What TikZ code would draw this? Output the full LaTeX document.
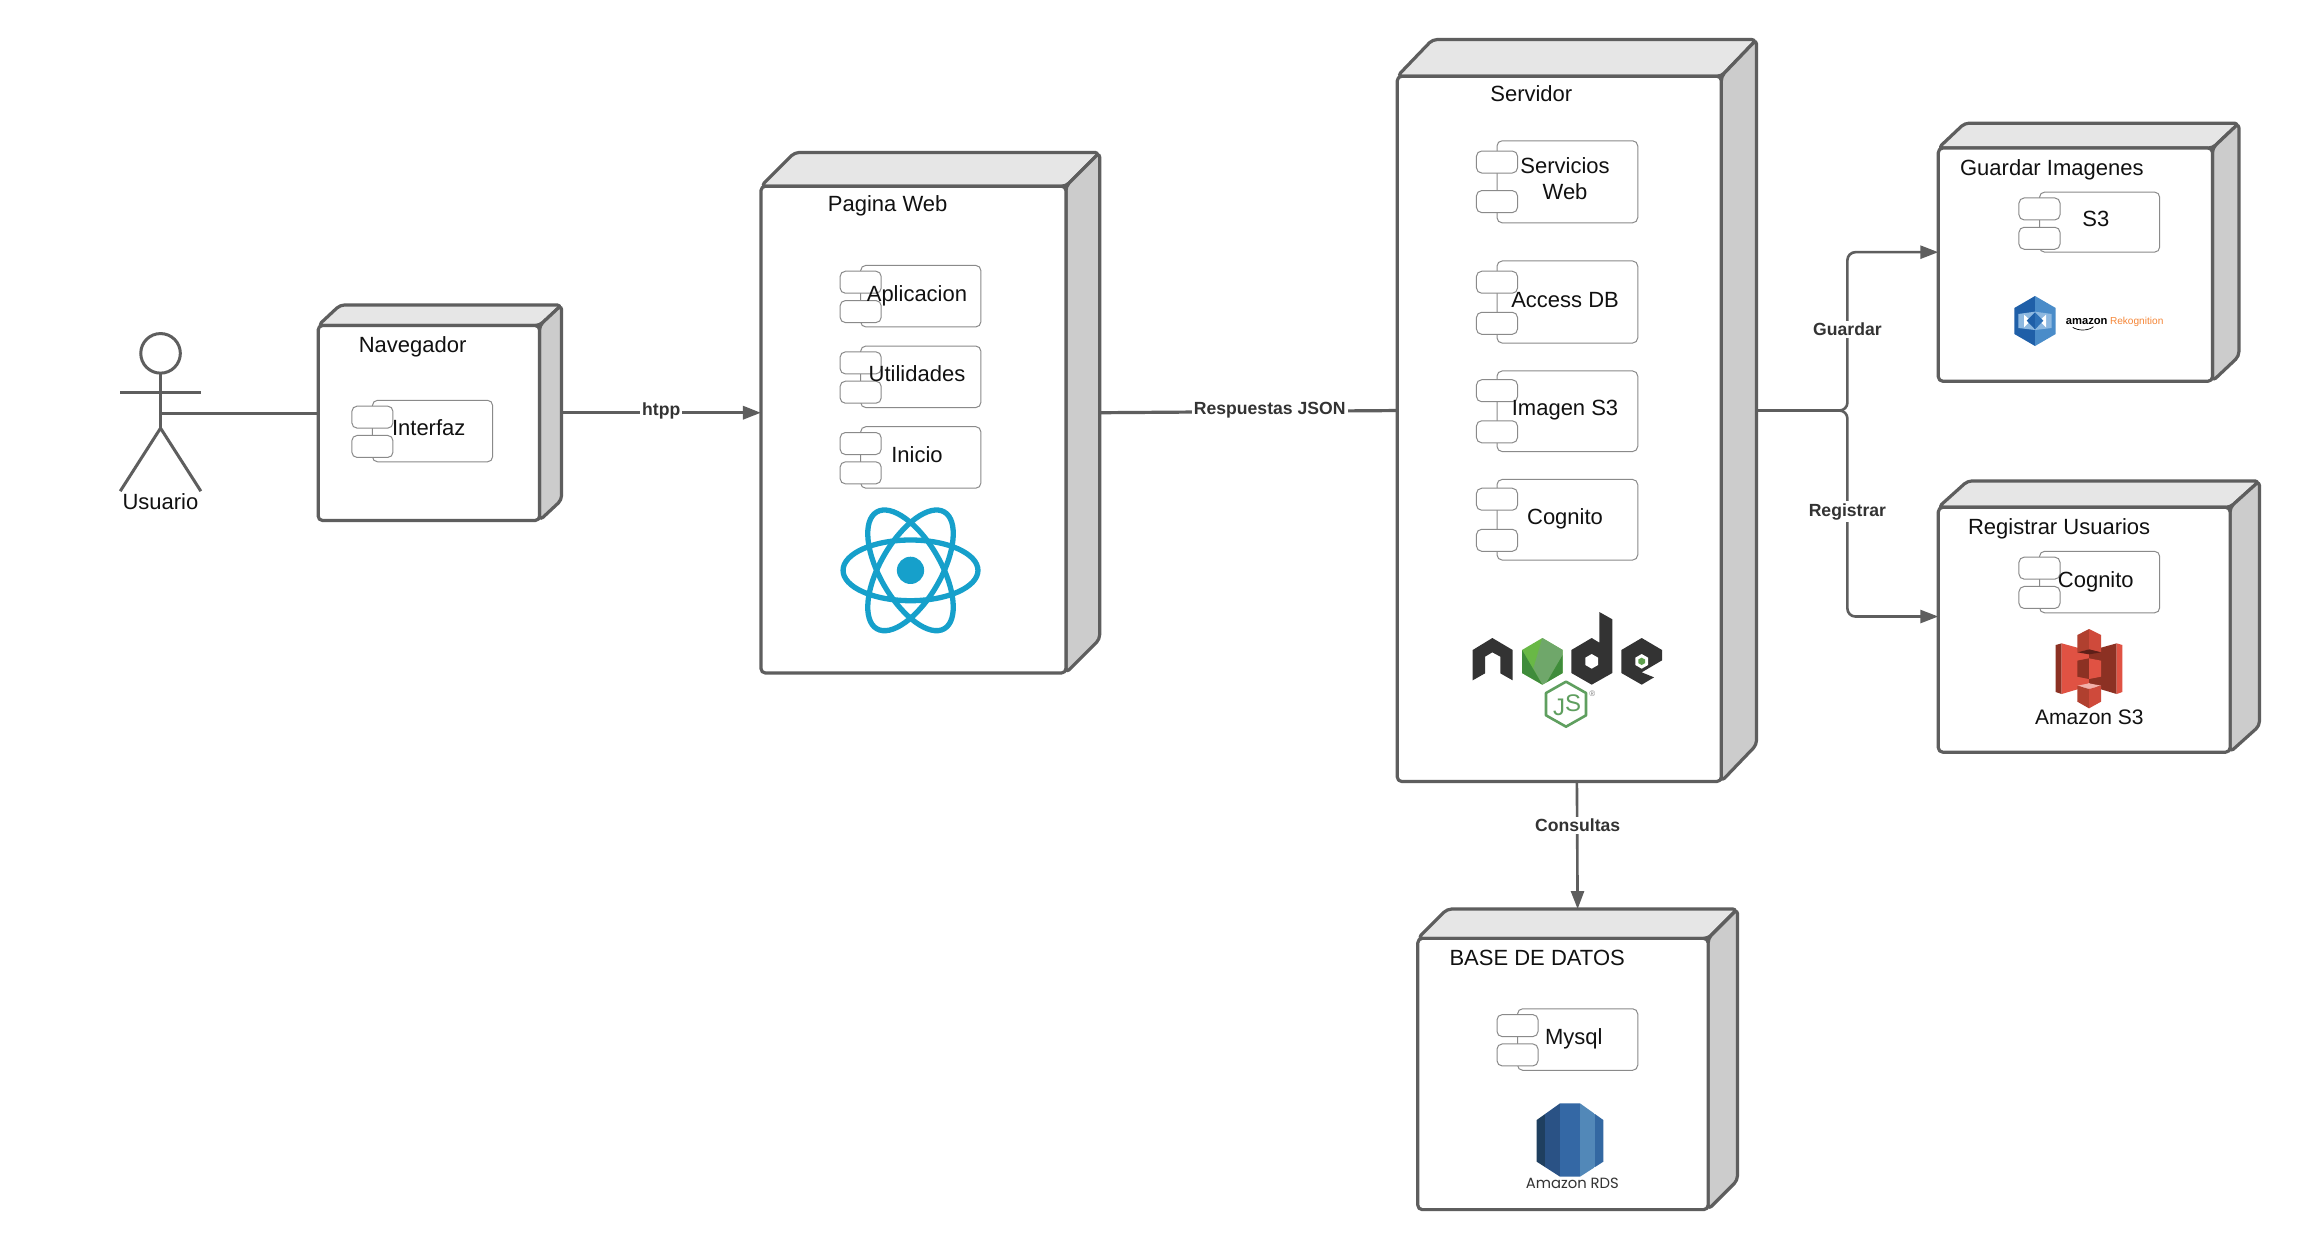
\documentclass[tikz,border=0pt]{standalone}
\usepackage{fontspec}
\setmainfont{Liberation Sans}
\newfontfamily\logofont{Poppins}
\usetikzlibrary{arrows.meta}
\definecolor{ln}{HTML}{5E5E5E}
\definecolor{thin}{HTML}{8A8A8A}
\definecolor{topc}{HTML}{E6E6E6}
\definecolor{sidec}{HTML}{CCCCCC}
\definecolor{txt}{HTML}{111111}
\definecolor{ctxt}{HTML}{333333}
\definecolor{reactc}{HTML}{16A0CB}
\definecolor{ndark}{HTML}{333333}
\definecolor{ngreen}{HTML}{5F9F5F}
\definecolor{rekorange}{HTML}{F58536}
\tikzset{
  boxline/.style={draw=ln,line width=1.6pt,line join=round,rounded corners=2.2pt},
  frontbox/.style={boxline,fill=white,inner sep=0pt,outer sep=0pt},
  extent/.style={inner sep=0pt,outer sep=0pt},
  partbox/.style={draw=thin,line width=.5pt,fill=white,rounded corners=2.6pt,inner sep=0pt,outer sep=0pt},
  lbl/.style={font=\fontsize{11}{13.2}\selectfont,text=txt,align=center,inner sep=0pt,text height=7.9pt,text depth=0pt,xshift=.3pt},
  clabel/.style={font=\fontsize{8.8}{10}\selectfont\bfseries,text=ctxt,fill=white,inner sep=1pt},
  conn/.style={draw=ln,line width=1.3pt},
  wideconn/.style={draw=ln,line width=1.6pt},
  tip/.style={-{Triangle[length=9pt,width=6.5pt]}},
  zoomed/.style 2 args={x=.166667pt,y=-.166667pt,shift={({#1*0.5pt},{-#2*0.5pt})}},
  hf/.code={\definecolor{tmphx}{HTML}{#1}\pgfkeysalso{fill=tmphx}},
}
\newcommand{\devicebox}[7]{%name,x1,y1,x2,y2,dx,dy
  \filldraw[boxline,fill=topc] (#2,#3)--({#2+#6},{#3-#7})--({#4+#6},{#3-#7})--(#4,#3)--cycle;
  \filldraw[boxline,fill=sidec] (#4,#3)--({#4+#6},{#3-#7})--({#4+#6},{#5-#7})--(#4,#5)--cycle;
  \node[frontbox,minimum width={(#4-#2)*0.7331pt},minimum height={(#5-#3)*0.7331pt}] (#1-front) at ({(#2+#4)/2},{(#3+#5)/2}) {};
  \node[extent,minimum width={(#4+#6-#2)*0.7331pt},minimum height={(#5-#3+#7)*0.7331pt}] (#1) at ({(#2+#4+#6)/2},{(#3+#5-#7)/2}) {};
}
\newcommand{\compbox}[7]{%name,x1,y1,x2,y2,peg1,peg2
  \node[partbox,minimum width={(#4-#2)*0.7331pt},minimum height={(#5-#3)*0.7331pt}] (#1) at ({(#2+#4)/2},{(#3+#5)/2}) {};
  \node[partbox,minimum width={28*0.7331pt},minimum height={15*0.7331pt}] (#1-a) at (#2,{#6+7.5}) {};
  \node[partbox,minimum width={28*0.7331pt},minimum height={15*0.7331pt}] (#1-b) at (#2,{#7+7.5}) {};
}
\begin{document}
\begin{tikzpicture}[x=0.7331pt,y=-0.7331pt]
\useasboundingbox (0,0) rectangle (1568,852);
\fill[white] (0,0) rectangle (1568,852);

\coordinate (hip) at (109,282);
\coordinate (split) at (1260,280);

\devicebox{nav}{217}{222}{368}{355}{15}{14}
\devicebox{web}{519}{127}{727}{459}{23}{23}
\devicebox{srv}{953}{52}{1174}{533}{24}{25}
\devicebox{img}{1322}{101}{1509}{260}{18}{17}
\devicebox{reg}{1322}{346}{1521}{513}{20}{18}
\devicebox{bdd}{967}{640}{1165}{825}{20}{20}

\draw[conn] (hip) -- (hip -| nav.west);
\draw[wideconn,tip] (nav.east) -- (web.west);
\draw[wideconn] (web.east) -- (srv.west);
\draw[conn,tip,rounded corners=4pt] (srv.east) -- (split) |- (img.west);
\draw[conn,tip,rounded corners=4pt] (srv.east) -- (split) |- (reg.west);
\draw[conn,tip] (srv.south) -- (bdd.north);

\node[clabel] (l1) at (451,280) {htpp};
\node[clabel] (l2) at (866,280) {Respuestas JSON};
\node[clabel] (l3) at (1260,224.5) {Guardar};
\node[clabel] (l4) at (1260,349) {Registrar};
\node[clabel] (l5) at (1076,563) {Consultas};

% actor
\begin{scope}[draw=ln,line width=1.5pt]
\node[draw=ln,line width=1.5pt,circle,minimum size={27*0.7331pt},inner sep=0pt,outer sep=0pt] (head) at (109.5,241) {};
\coordinate (crotch) at (109.5,292);
\coordinate (armL) at (82,268);
\coordinate (armR) at (137,268);
\coordinate (legL) at (82,335);
\coordinate (legR) at (137,335);
\draw (head.south) -- (crotch);
\draw (armL) -- (armR);
\draw (legL) -- (crotch) -- (legR);
\end{scope}
\node[lbl] (usuario) at (109,342) {Usuario};

% titles
\node[lbl] (t1) at (281,235) {Navegador};
\node[lbl] (t2) at (605,139) {Pagina Web};
\node[lbl] (t3) at (1044,64) {Servidor};
\node[lbl] (t4) at (1399,114) {Guardar Imagenes};
\node[lbl] (t5) at (1404,359) {Registrar Usuarios};
\node[lbl] (t6) at (1048,653) {BASE DE DATOS};

% components
\compbox{c1}{254}{273}{336}{315}{277}{297}
\node[lbl] at (292,291.5) {Interfaz};
\compbox{c2}{587}{181}{669}{223}{185}{205}
\node[lbl] at (625,200) {Aplicacion};
\compbox{c3}{587}{236}{669}{278}{240}{260}
\node[lbl] at (625,255) {Utilidades};
\compbox{c4}{587}{291}{669}{333}{295}{315}
\node[lbl] at (625,310) {Inicio};
\compbox{c5}{1021}{96}{1117}{152}{103}{130}
\node[lbl] at (1067,131) {Servicios\\Web};
\compbox{c6}{1021}{178}{1117}{234}{185}{213}
\node[lbl] at (1067,204) {Access DB};
\compbox{c7}{1021}{253}{1117}{308}{259}{287}
\node[lbl] at (1067,278) {Imagen S3};
\compbox{c8}{1021}{327}{1117}{382}{333}{361}
\node[lbl] at (1067,352) {Cognito};
\compbox{c9}{1391}{131}{1473}{172}{135}{155}
\node[lbl] at (1429,149) {S3};
\compbox{c10}{1391}{376}{1473}{418}{380}{400}
\node[lbl] at (1429,395) {Cognito};
\compbox{c11}{1035}{688}{1117}{730}{692}{712}
\node[lbl] at (1073,707) {Mysql};

% react logo
\begin{scope}[draw=reactc,line width=2.65pt]
\draw (621,389) circle[x radius=46,y radius=20.7];
\draw[rotate around={60:(621,389)}] (621,389) circle[x radius=46,y radius=20.7];
\draw[rotate around={120:(621,389)}] (621,389) circle[x radius=46,y radius=20.7];
\end{scope}
\fill[reactc] (621,389) circle[radius=9.3];

% node logo
\begin{scope}[zoomed={1440}{600}]
\fill[ndark] (98,150)--(157,114)--(218,150)--(218,241)--(181,220)--(181,170)--(157,157)--(135,170)--(135,220)--(98,241)--cycle;
\fill[ndark] (394,150)--(455,114)--(478,128)--(478,36)--(517,58)--(517,219)--(455,254)--(394,219)--cycle;
\fill[white] (455,162)--(474,173)--(474,195)--(455,206)--(436,195)--(436,173)--cycle;
\fill[ndark] (544,150)--(605,114)--(666,150)--(666,181)--(605,217)--(642,232)--(605,254)--(544,219)--cycle;
\fill[white] (605,162)--(624,173)--(624,195)--(605,206)--(586,195)--(586,173)--cycle;
\fill[hf=5FA04E] (605,173)--(615,178.5)--(615,189.5)--(605,195)--(595,189.5)--(595,178.5)--cycle;
\fill[hf=69B846] (307,114)--(368,150)--(368,219)--(307,254)--(246,219)--(246,150)--cycle;
\fill[hf=6FA76A] (307,114)--(368,150)--(368,165)--(320,247)--(307,254)--(280,205)--cycle;
\fill[hf=3F8C3B] (246,150)--(307,254)--(246,219)--cycle;
\fill[hf=3F8C3B] (368,165)--(368,219)--(320,247)--cycle;
\draw[ngreen,line width=1.3pt,line join=round] (378,245)--(438,279)--(438,346)--(378,380)--(318,346)--(318,279)--cycle;
\node[font=\fontsize{12}{13}\selectfont,text=ngreen,inner sep=0pt] (jsmark) at (381,311) {\smash{\raisebox{-1.6pt}{J}}S};
\node[font=\fontsize{4}{4}\selectfont,text=gray,inner sep=0pt] (regmark) at (457,282) {®};
\end{scope}

% rekognition logo
\begin{scope}[zoomed={1960}{280}]
\fill[hf=1F5FA8] (225,48)--(225,198)--(163,162)--(163,84)--cycle;
\fill[hf=4A8CC9] (225,48)--(287,84)--(287,162)--(225,198)--cycle;
\fill[hf=8DB8E0] (175,102)--(225,95)--(275,102)--(275,144)--(225,150)--(175,144)--cycle;
\fill[white] (192,104)--(212,122)--(192,142)--cycle;
\fill[white] (258,104)--(238,122)--(258,142)--cycle;
\fill[hf=1F5FA8] (225,97)--(225,148)--(200,122)--cycle;
\fill[hf=2F72B8] (225,97)--(250,122)--(225,148)--cycle;
\node[font=\fontsize{5.6}{6}\selectfont\bfseries,text=black,inner sep=0pt] (amz) at (380,126) {amazon};
\node[font=\fontsize{5.05}{6}\selectfont,text=rekorange,inner sep=0pt] (rek) at (530,125) {Rekognition};
\draw[black,line width=.35pt] (338,142) .. controls (355,153) and (385,153) .. (400,140);
\end{scope}

% S3 logo
\begin{scope}[zoomed={2020}{620}]
\fill[hf=8C3123] (107,75)--(125,70)--(125,222)--(107,216)--cycle;
\fill[hf=E05243] (125,70)--(172,83)--(207,88)--(207,190)--(172,208)--(125,222)--cycle;
\fill[hf=8C3123] (207,88)--(243,83)--(290,70)--(290,222)--(243,208)--(207,190)--cycle;
\fill[hf=E05243] (290,70)--(307,75)--(307,216)--(290,222)--cycle;
\fill[hf=B0402F] (172,45)--(207,27)--(207,88)--(172,97)--cycle;
\fill[hf=CF4A3B] (207,27)--(243,45)--(243,97)--(207,88)--cycle;
\fill[hf=5E1F18] (172,97)--(207,88)--(243,97)--(207,103)--cycle;
\fill[hf=8C3123] (172,122)--(207,115)--(207,177)--(172,170)--cycle;
\fill[hf=E05243] (207,115)--(243,122)--(243,170)--(207,177)--cycle;
\fill[hf=F2B0A9] (172,197)--(207,190)--(243,197)--(207,207)--cycle;
\fill[hf=B0402F] (172,197)--(207,207)--(207,265)--(172,245)--cycle;
\fill[hf=CF4A3B] (207,207)--(243,197)--(243,245)--(207,265)--cycle;
\node[font=\fontsize{10.5}{12}\selectfont,text=txt,inner sep=0pt] (s3name) at (208,293) {Amazon S3};
\end{scope}

% RDS logo
\begin{scope}[zoomed={1500}{1090}]
\begin{scope}
\clip (110,90)--(180,40)--(240,40)--(310,90)--(310,215)--(240,260)--(180,260)--(110,215)--cycle;
\fill[hf=1F3F5F] (105,35) rectangle (136,265);
\fill[hf=2A5285] (135,35) rectangle (181,265);
\fill[hf=3468A5] (180,35) rectangle (241,265);
\fill[hf=5288B8] (240,35) rectangle (286,265);
\fill[hf=3368A2] (285,35) rectangle (315,265);
\end{scope}
\node[font=\fontsize{7.4}{8}\selectfont\logofont,text=ctxt,inner sep=0pt] (rdsname) at (217,281) {Amazon RDS};
\end{scope}
\end{tikzpicture}
\end{document}
